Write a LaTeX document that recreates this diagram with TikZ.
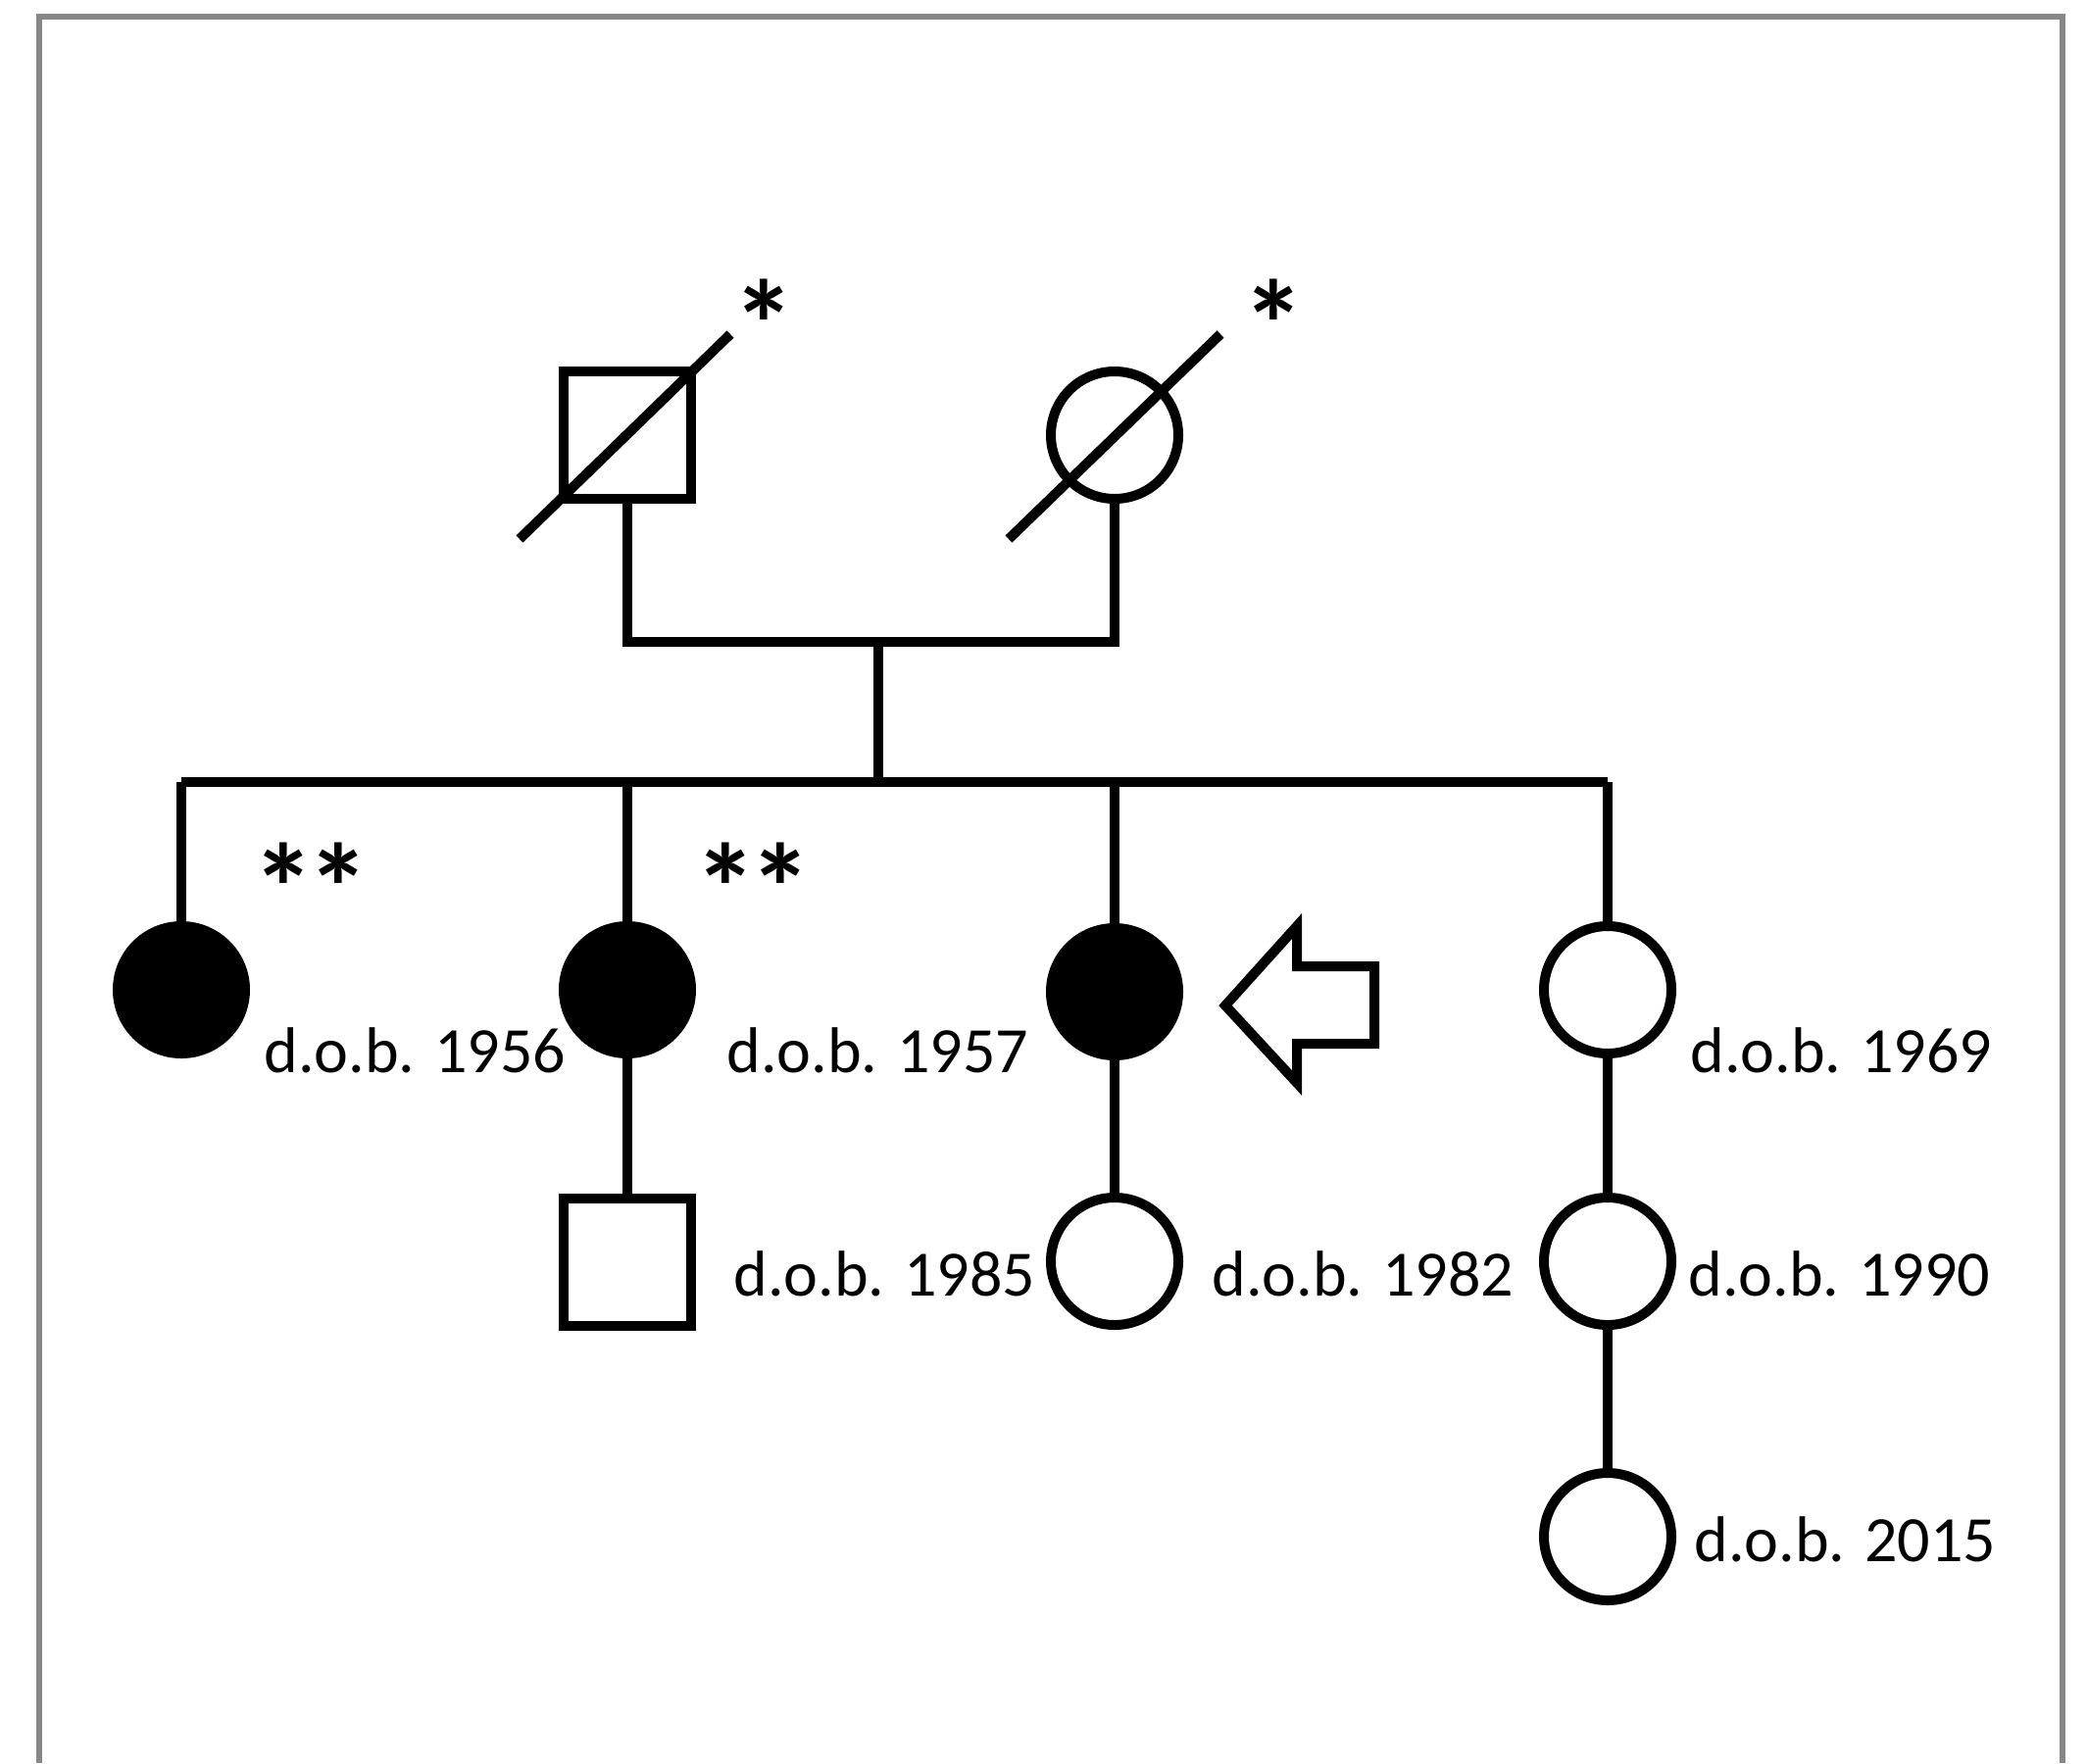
\documentclass[tikz,border=0pt]{standalone}
\usepackage{fontspec}
\setmainfont{Carlito}
\definecolor{framegray}{HTML}{878787}
\begin{document}
\begin{tikzpicture}[x=0.5pt,y=-0.5pt,
  female/.style={circle, draw, line width=5pt, minimum size=65pt, inner sep=0pt},
  male/.style={rectangle, draw, line width=5pt, minimum size=65pt, inner sep=0pt},
  affected/.style={fill=black},
  link/.style={line width=5pt},
  lbl/.style={anchor=base west, inner sep=0pt, font=\fontsize{33}{40}\selectfont},
  ast/.style={anchor=base, inner sep=0pt, font=\fontsize{64}{70}\selectfont\bfseries}
]
\useasboundingbox (0,0) rectangle (2129,1799);
% frame
\draw[framegray, line width=2.75pt] (40,1799) -- (40,17) -- (2104,17) -- (2104,1799);

% parents
\node[male] (f) at (640,444) {};
\node[female] (m) at (1137,444) {};
\draw[link] (530,550) -- (745,341);
\draw[link] (1029,550) -- (1245,341);
\node[ast] (af) at (779,376) {*};
\node[ast] (am) at (1299,376) {*};

% marriage and sibship
\coordinate (mf) at (640,655);
\coordinate (mm) at (1137,655);
\coordinate (mc) at (896,655);
\coordinate (sc) at (896,798);
\coordinate (s1) at (185,798);
\coordinate (s4) at (1640,798);
\draw[link] (f.south) -- (mf) -- (mm) -- (m.south);
\draw[link] (mc) -- (sc);
\draw[link] (s1) -- (s4);

% children
\node[female,affected] (c1) at (185,1010) {};
\node[female,affected] (c2) at (640,1010) {};
\node[female,affected] (c3) at (1137,1012) {};
\node[female] (c4) at (1640,1010) {};
\draw[link] (s1) -- (c1.north);
\draw[link] (c2.north |- s1) -- (c2.north);
\draw[link] (c3.north |- s1) -- (c3.north);
\draw[link] (s4) -- (c4.north);
\node[ast] (a1) at (317,951) {*\kern-4pt*};
\node[ast] (a2) at (768,951) {*\kern-4pt*};

\node[lbl] (l1) at (269,1094) {d.o.b. 1956};
\node[lbl] (l2) at (741,1094) {d.o.b. 1957};
\node[lbl] (l4) at (1724,1094) {d.o.b. 1969};

% proband arrow
\draw[line width=5pt, line join=miter] (1250,1026) -- (1323,945) -- (1323,986) -- (1402,986)
  -- (1402,1065) -- (1323,1065) -- (1323,1105) -- cycle;

% grandchildren
\node[male] (g2) at (640,1288) {};
\node[female] (g3) at (1137,1287) {};
\node[female] (g4) at (1640,1287) {};
\node[female] (gg4) at (1640,1568) {};
\draw[link] (c2.south) -- (g2.north);
\draw[link] (c3.south) -- (g3.north);
\draw[link] (c4.south) -- (g4.north);
\draw[link] (g4.south) -- (gg4.north);

\node[lbl] (l5) at (748,1322) {d.o.b. 1985};
\node[lbl] (l6) at (1236,1322) {d.o.b. 1982};
\node[lbl] (l7) at (1722,1322) {d.o.b. 1990};
\node[lbl] (l8) at (1728,1593) {d.o.b. 2015};
\end{tikzpicture}
\end{document}
